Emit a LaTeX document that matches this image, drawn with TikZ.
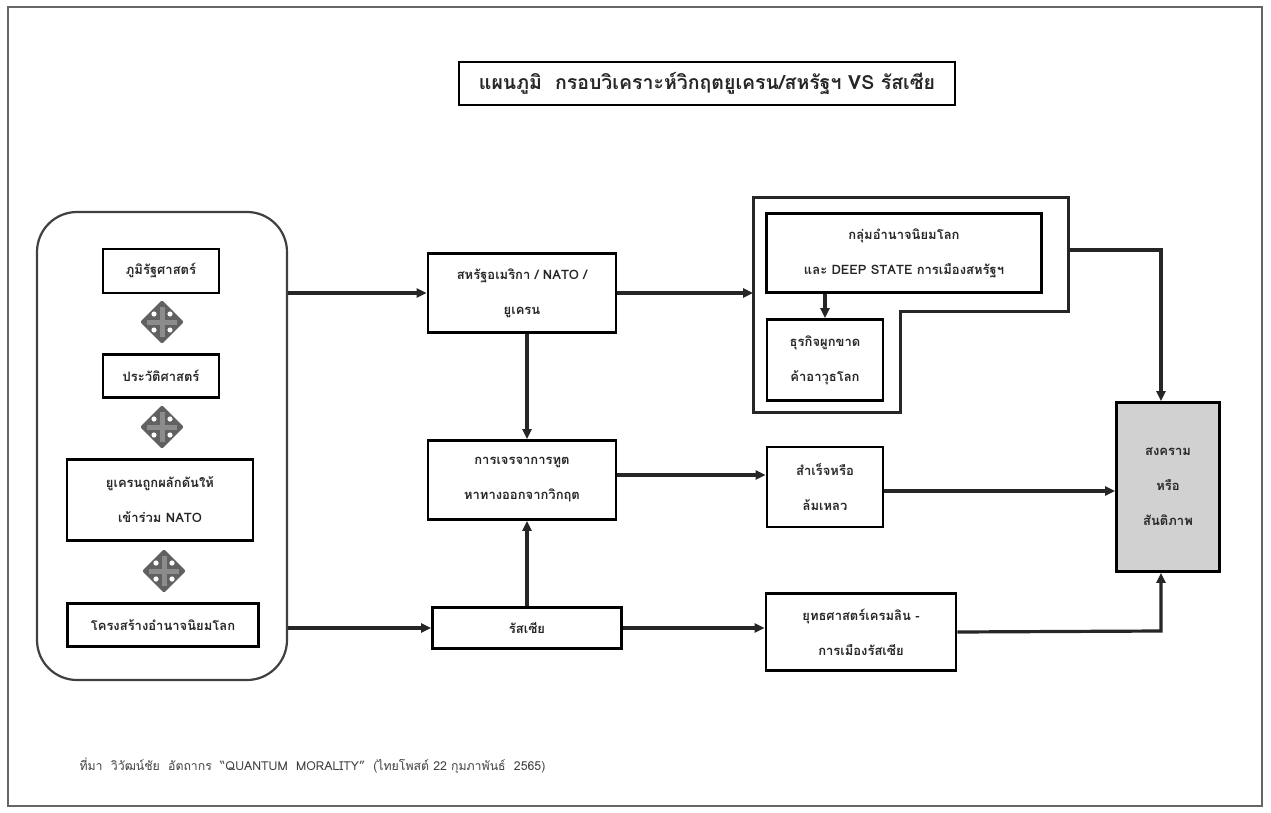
\documentclass[tikz,border=0pt]{standalone}
\usepackage{fontspec}
\newfontfamily\thaifont[Script=Thai]{Loma}
\usetikzlibrary{positioning, arrows.meta, shapes.geometric}
\tikzset{
  x=1pt, y=-1pt,
  >={Triangle[length=10pt, width=9pt]},
  box/.style={draw, line width=2.8pt, align=center, inner sep=2pt,
    text=black!85, font=\thaifont\bfseries\fontsize{13}{35}\selectfont},
  link/.style={->, line width=3.2pt, black!85},
  crossdia/.style={diamond, fill=black!62, inner sep=0pt,
    minimum width=44pt, minimum height=44pt, rounded corners=2pt,
    path picture={
      \draw[line width=5pt, black!45] (path picture bounding box.center)
        +(-15,0) -- +(15,0) +(0,-15) -- +(0,15);
      \fill[white] (path picture bounding box.center)
        +(8,8) circle (2.6pt) +(-8,8) circle (2.6pt)
        +(8,-8) circle (2.6pt) +(-8,-8) circle (2.6pt);
    }},
}

\begin{document}
\begin{tikzpicture}
        \useasboundingbox (0,0) rectangle (1271,813);
        \draw[line width=1.6pt, black!60] (8,7) rectangle (1262,806);

        % title
        \node[box, line width=2pt, minimum width=496pt, minimum height=43pt,
              font=\thaifont\bfseries\fontsize{19.5}{22}\selectfont] (title) at (707,84)
              {แผนภูมิ\ \ กรอบวิเคราะห์วิกฤตยูเครน/สหรัฐฯ VS รัสเซีย};

        % causes
        \node[draw, line width=2.2pt, black!75, rounded corners=40pt,
              minimum width=250pt, minimum height=468pt] (causes) at (162,446) {};
        \node[box, minimum width=116pt, minimum height=44pt] (geo) at (161,271) {ภูมิรัฐศาสตร์};
        \node[crossdia] (d1) at (162,322) {};
        \node[box, minimum width=116pt, minimum height=43pt] (hist) at (161,376) {ประวัติศาสตร์};
        \node[crossdia] (d2) at (162,427) {};
        \node[box, minimum width=186pt, minimum height=81pt] (nato) at (160,500) {ยูเครนถูกผลักดันให้\\เข้าร่วม NATO};
        \node[crossdia] (d3) at (164,571) {};
        \node[box, minimum width=191pt, minimum height=43pt] (order) at (163,625) {โครงสร้างอำนาจนิยมโลก};

        % actors
        \node[box, minimum width=188pt, minimum height=79pt] (usa) at (522,293) {สหรัฐอเมริกา / NATO /\\ยูเครน};
        \node[box, minimum width=188pt, minimum height=79pt] (talks) at (522,480) {การเจรจาการทูต\\หาทางออกจากวิกฤต};
        \node[box, minimum width=189pt, minimum height=41pt] (russia) at (527,628) {รัสเซีย};

        % power group
        \draw[line width=3pt, black!85] (753,198) coordinate (Lnw) -- (1068,198)
              -- (1068,311) -- (900,311) -- (900,412) -- (753,412) -- cycle;
        \coordinate (Lout) at (1068,250);
        \node[box, minimum width=275pt, minimum height=79pt] (elite) at (904,253) {กลุ่มอำนาจนิยมโลก\\และ DEEP STATE การเมืองสหรัฐฯ};
        \node[box, minimum width=116pt, minimum height=81pt] (arms) at (825,360) {ธุรกิจผูกขาด\\ค้าอาวุธโลก};

        % outcomes
        \node[box, minimum width=116pt, minimum height=80pt] (result) at (825,487) {สำเร็จหรือ\\ล้มเหลว};
        \node[box, minimum width=190pt, minimum height=77pt] (kremlin) at (861,632) {ยุทธศาสตร์เครมลิน -\\การเมืองรัสเซีย};
        \node[box, fill=black!18, minimum width=103pt, minimum height=169pt] (war) at (1168,487) {สงคราม\\หรือ\\สันติภาพ};
        \coordinate (wtop) at (1161,250);
        \coordinate (wbot) at (1161,631);

        % links
        \draw[link] (causes.east |- usa.west) -- (usa.west);
        \draw[link] (causes.east |- russia.west) -- (russia.west);
        \draw[link] (usa.east) -- (usa.east -| Lnw);
        \draw[link] (usa.south -| russia.north) -- (russia.north |- talks.north);
        \draw[link] (russia.north) -- (russia.north |- talks.south);
        \draw[link] (elite.south -| arms.north) -- (arms.north);
        \draw[link] ([yshift=5]talks.east) -- ([yshift=5]talks.east -| result.west);
        \draw[link] ([yshift=-4]result.east) -- ([yshift=-4]result.east -| war.west);
        \draw[link] (russia.east) -- (russia.east -| kremlin.west);
        \draw[link] (Lout) -- (wtop) -- (wtop |- war.north);
        \draw[link] (kremlin.east) -- (wbot) -- (wbot |- war.south);

        % source
        \node[anchor=west, text=black!75, font=\thaifont\fontsize{12.3}{14}\selectfont] (source) at (76,766)
              {ที่มา\ \ วิวัฒน์ชัย\ \ อัตถากร\ \ “QUANTUM\ \ MORALITY”\ \ (ไทยโพสต์ 22 กุมภาพันธ์\ \ 2565)};
\end{tikzpicture}
\end{document}
